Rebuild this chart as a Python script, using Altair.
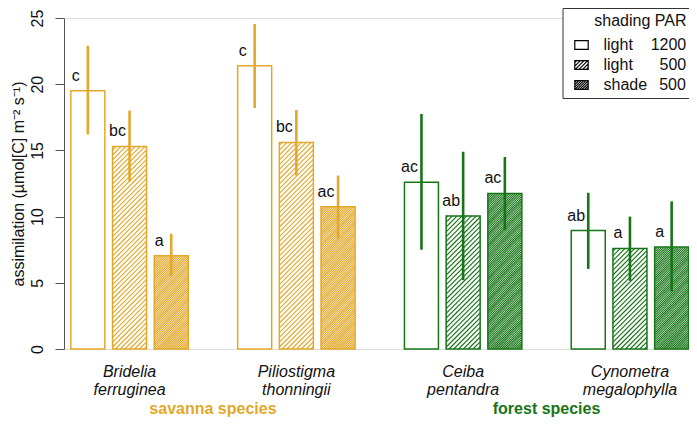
import altair as alt
import pandas as pd

# ---------------- data ----------------
species = ["Bridelia ferruginea", "Piliostigma thonningii", "Ceiba pentandra", "Cynometra megalophylla"]
species_label = ["Bridelia\nferruginea", "Piliostigma\nthonningii", "Ceiba\npentandra", "Cynometra\nmegalophylla"]
habitat = ["savanna", "savanna", "forest", "forest"]
habitat_names = ["savanna species", "forest species"]
habitat_keys = ["savanna", "forest"]
treatments = ["light 1200", "light 500", "shade 500"]

mean_values = [
    [19.5, 15.3, 7.05],
    [21.4, 15.6, 10.75],
    [12.6, 10.05, 11.75],
    [8.95, 7.6, 7.7],
]
lower_values = [
    [16.2, 12.65, 5.5],
    [18.2, 13.1, 8.35],
    [7.5, 5.2, 9.0],
    [6.05, 5.15, 4.35],
]
upper_values = [
    [22.9, 18.0, 8.7],
    [24.55, 18.05, 13.1],
    [17.75, 14.9, 14.5],
    [11.8, 10.0, 11.15],
]
letters = [
    ["c", "bc", "a"],
    ["c", "bc", "ac"],
    ["ac", "ab", "ac"],
    ["ab", "a", "a"],
]
y_ticks = [0, 5, 10, 15, 20, 25]

# ---------------- styling / layout ----------------
GOLD = "#E3A82B"
GREEN = "#177517"
FONT = "Liberation Sans"
W, H = 625, 331
PX_X = 41.7          # pixels per bar slot
PX_Y = H / 25.0      # pixels per y unit
BAR_W = 34.0
HALF = BAR_W / 2 / PX_X
x0 = -23.85 / PX_X
x_domain = [x0, x0 + W / PX_X]
hatch_spacing = {"light 500": 4.8, "shade 500": 2.2}

rows = []
for g, sp in enumerate(species):
    for i, tr in enumerate(treatments):
        pos = g * 4 + i
        rows.append(dict(species=sp, habitat=habitat[g], treatment=tr, pos=pos,
                         left=pos - HALF, right=pos + HALF, base=0.0,
                         value=mean_values[g][i], lo=lower_values[g][i],
                         hi=upper_values[g][i], letter=letters[g][i]))
bars = pd.DataFrame(rows)

# hatch segments derived from bar heights (45 degree lines in screen space)
hatch_rows = []
for r in rows:
    if r["treatment"] not in hatch_spacing:
        continue
    s = hatch_spacing[r["treatment"]]
    h = r["value"] * PX_Y
    c = -BAR_W + s / 2
    while c < h:
        xs = max(0.0, -c)
        xe = min(BAR_W, h - c)
        if xe > xs:
            hatch_rows.append(dict(habitat=r["habitat"], treatment=r["treatment"],
                                   hx=r["left"] + xs / PX_X, hx2=r["left"] + xe / PX_X,
                                   hy=(xs + c) / PX_Y, hy2=(xe + c) / PX_Y))
        c += s
hatch = pd.DataFrame(hatch_rows)

labels_df = pd.DataFrame({"label": species_label, "g": list(range(len(species)))})
hab_df = pd.DataFrame({"name": habitat_names, "habitat": habitat_keys, "k": [0, 1]})


def symbol_path(spacing):
    parts = ["M-1,-0.65H1V0.65H-1Z"]
    if spacing:
        c = -2 + spacing / 2
        while c < 1.3:
            xs = max(0.0, -c)
            xe = min(2.0, 1.3 - c)
            if xe > xs:
                parts.append("M%.3f,%.3fL%.3f,%.3f" % (-1 + xs, 0.65 - (xs + c), -1 + xe, 0.65 - (xe + c)))
            c += spacing
    return "".join(parts)


shape_range = [symbol_path(None), symbol_path(0.55), symbol_path(0.36)]
NB = "\u00a0"
legend_labels = {
    "light 1200": "light" + NB * 4 + "1200",
    "light 500": "light" + NB * 6 + "500",
    "shade 500": "shade" + NB * 2 + "\u2009" + "500",
}
label_expr = " : ".join(
    ["datum.label == '%s' ? '%s'" % (k, v) for k, v in list(legend_labels.items())[:-1]]
    + ["'%s'" % list(legend_labels.values())[-1]]
)

xs = alt.Scale(domain=x_domain, nice=False, zero=False)
ys = alt.Scale(domain=[0, 25], nice=False)
col = alt.Color("habitat:N", scale=alt.Scale(domain=habitat_keys, range=[GOLD, GREEN]), legend=None)

base = alt.Chart(bars)

rects = base.mark_rect(filled=False, strokeWidth=1.5).encode(
    x=alt.X("left:Q", scale=xs, axis=None),
    x2="right:Q",
    y=alt.Y("value:Q", scale=ys,
            axis=alt.Axis(values=y_ticks, grid=False, tickSize=9, tickColor="#555555",
                          domainColor="#555555", labelAngle=-90, labelAlign="center",
                          labelBaseline="alphabetic", labelPadding=13, labelFont=FONT,
                          labelFontSize=16, labelColor="#111111",
                          title="assimilation (µmol[C] m⁻² s⁻¹)", titleFont=FONT,
                          titleFontSize=16, titleFontWeight="normal", titleColor="#111111",
                          titleAngle=-90, titleAlign="center", titleBaseline="alphabetic",
                          titleX=-41, titleY=H / 2)),
    y2="base:Q",
    color=col,
)

sparse = alt.Chart(hatch).transform_filter("datum.treatment == 'light 500'").mark_rule(strokeWidth=1.15).encode(
    x=alt.X("hx:Q", scale=xs), x2="hx2:Q", y=alt.Y("hy:Q", scale=ys), y2="hy2:Q", color=col)
dense = alt.Chart(hatch).transform_filter("datum.treatment == 'shade 500'").mark_rule(strokeWidth=1.1).encode(
    x=alt.X("hx:Q", scale=xs), x2="hx2:Q", y=alt.Y("hy:Q", scale=ys), y2="hy2:Q", color=col)

errs = base.mark_rule(strokeWidth=2.6).encode(
    x=alt.X("pos:Q", scale=xs), y=alt.Y("lo:Q", scale=ys), y2="hi:Q", color=col)

lets = base.mark_text(font=FONT, fontSize=16, color="#111111", dx=-12, dy=-10,
                      align="center", baseline="alphabetic").encode(
    x=alt.X("pos:Q", scale=xs), y=alt.Y("value:Q", scale=ys), text="letter:N")

sp_text = alt.Chart(labels_df).transform_calculate(cx="datum.g * 4 + 1").mark_text(
    font=FONT, fontSize=16, fontStyle="italic", color="#111111", align="center",
    baseline="alphabetic", lineBreak="\n", lineHeight=18).encode(
    x=alt.X("cx:Q", scale=xs), y=alt.value(359), text="label:N")

hab_text = alt.Chart(hab_df).transform_calculate(cx="datum.k * 8 + 3").mark_text(
    font=FONT, fontSize=16, fontWeight="bold", align="center", baseline="alphabetic").encode(
    x=alt.X("cx:Q", scale=xs), y=alt.value(395.5), text="name:N", color=col)

legend_pts = base.mark_point(opacity=0, color="black").encode(
    x=alt.X("pos:Q", scale=xs), y=alt.Y("value:Q", scale=ys),
    shape=alt.Shape("treatment:N", scale=alt.Scale(domain=treatments, range=shape_range),
                    legend=alt.Legend(title="shading PAR", orient="none", legendX=498.5, legendY=-10,
                                      direction="vertical", padding=5, strokeColor="#333333",
                                      fillColor="white", titleFont=FONT, titleFontSize=16,
                                      titleFontWeight="normal", titleColor="#111111",
                                      titleAnchor="end", titleAlign="right", titlePadding=8,
                                      labelFont=FONT, labelFontSize=16, labelColor="#111111",
                                      labelExpr=label_expr, labelOffset=14, symbolOffset=6,
                                      symbolSize=180, symbolStrokeWidth=1.2,
                                      symbolStrokeColor="black", symbolOpacity=1,
                                      rowPadding=4, labelLimit=300)),
)

chart = alt.layer(rects, sparse, dense, errs, lets, sp_text, hab_text, legend_pts).properties(
    width=W, height=H,
    padding={"left": 56, "top": 10, "right": 0, "bottom": 68},
    autosize=alt.AutoSizeParams(type="none"),
).configure_view(strokeWidth=0).configure(background="white")

chart.save("out.html", embed_options={"renderer": "svg", "actions": False})
